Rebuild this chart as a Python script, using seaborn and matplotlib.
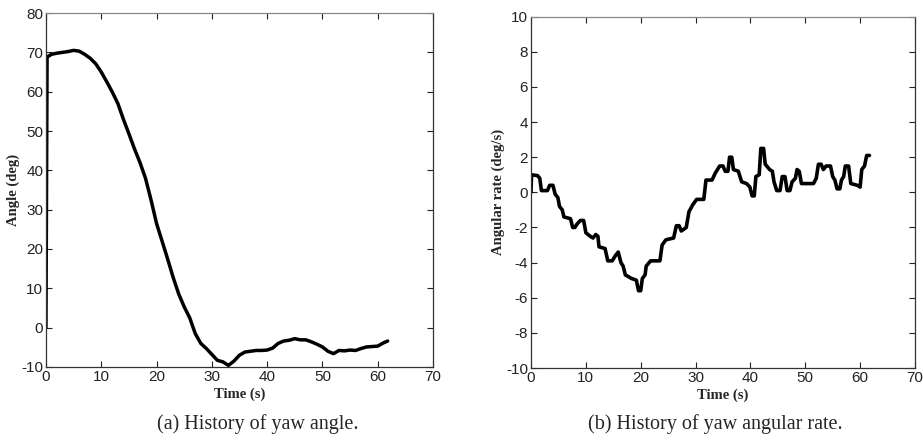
import matplotlib
matplotlib.use("Agg")
import matplotlib.pyplot as plt
import seaborn as sns
import pandas as pd

# ---- data ----
angle_time = [0, 0.2, 1, 2, 3, 4, 5, 6, 7, 8, 9, 10, 11, 12, 13, 14, 15, 16, 17, 18,
              19, 20, 21, 22, 23, 24, 25, 26, 27, 28, 29, 30, 31, 32, 33, 34, 35, 36,
              37, 38, 39, 40, 41, 42, 43, 44, 45, 46, 47, 48, 49, 50, 51, 52, 53, 54,
              55, 56, 57, 58, 59, 60, 61, 61.8]
angle_deg = [0, 68.8, 69.5, 69.8, 70.0, 70.2, 70.5, 70.3, 69.5, 68.5, 67.1, 65.0, 62.5,
             59.9, 57.0, 53.0, 49.3, 45.5, 42.0, 38.0, 32.5, 26.5, 22.0, 17.5, 12.8, 8.6,
             5.3, 2.5, -1.5, -4.0, -5.3, -6.8, -8.3, -8.7, -9.6, -8.5, -7.0, -6.2, -6.0,
             -5.8, -5.8, -5.7, -5.2, -4.0, -3.4, -3.2, -2.8, -3.1, -3.1, -3.6, -4.2, -4.9,
             -6.0, -6.6, -5.8, -5.9, -5.7, -5.8, -5.3, -4.9, -4.8, -4.7, -3.9, -3.4]

rate_time = [0, 0.1, 1.2, 1.6, 1.9, 3.0, 3.4, 4.0, 4.4, 4.9, 5.2, 5.7, 6.0, 7.2, 7.6, 8.0,
             8.4, 9.0, 9.6, 10.0, 10.8, 11.3, 11.8, 12.2, 12.4, 13.5, 14.0, 14.8, 15.4,
             15.9, 16.4, 16.8, 17.2, 18.3, 19.2, 19.6, 20.0, 20.3, 20.8, 21.0, 21.8, 23.5,
             23.9, 24.6, 26.0, 26.5, 27.0, 27.4, 28.3, 28.8, 29.5, 30.2, 31.5, 31.9, 33.0,
             33.6, 34.4, 35.0, 35.4, 35.9, 36.2, 36.6, 36.9, 37.8, 38.4, 39.3, 39.9, 40.3,
             40.7, 41.0, 41.6, 41.9, 42.4, 42.7, 43.5, 44.0, 44.3, 44.8, 45.4, 45.8, 46.3,
             46.7, 47.2, 47.6, 48.2, 48.5, 48.9, 49.3, 51.5, 52.0, 52.4, 52.9, 53.3, 53.8,
             54.6, 55.0, 55.4, 55.8, 56.3, 56.6, 57.0, 57.3, 57.9, 58.3, 59.5, 60.0, 60.3,
             60.8, 61.2, 61.7]
rate_deg_s = [0, 1.0, 0.95, 0.8, 0.1, 0.1, 0.4, 0.4, -0.1, -0.3, -0.8, -1.0, -1.4, -1.5,
              -2.0, -2.0, -1.8, -1.6, -1.6, -2.3, -2.5, -2.6, -2.4, -2.5, -3.1, -3.2, -3.9,
              -3.9, -3.6, -3.4, -4.0, -4.2, -4.7, -4.9, -5.0, -5.6, -5.6, -4.9, -4.7, -4.2,
              -3.9, -3.9, -3.0, -2.7, -2.6, -1.9, -1.9, -2.2, -2.0, -1.1, -0.7, -0.4, -0.4,
              0.7, 0.7, 1.1, 1.5, 1.5, 1.2, 1.2, 2.0, 2.0, 1.3, 1.2, 0.6, 0.5, 0.3, -0.2,
              -0.2, 0.9, 1.0, 2.5, 2.5, 1.6, 1.3, 1.2, 0.6, 0.1, 0.1, 0.9, 0.9, 0.1, 0.1,
              0.6, 0.8, 1.3, 1.2, 0.5, 0.5, 0.8, 1.6, 1.6, 1.3, 1.5, 1.5, 0.9, 0.7, 0.2,
              0.2, 0.7, 0.9, 1.5, 1.5, 0.5, 0.4, 0.3, 1.3, 1.5, 2.1, 2.1]

x_ticks = [0, 10, 20, 30, 40, 50, 60, 70]
angle_ticks = [-10, 0, 10, 20, 30, 40, 50, 60, 70, 80]
rate_ticks = [-10, -8, -6, -4, -2, 0, 2, 4, 6, 8, 10]

sns.set_style("ticks")
plt.rcParams["font.family"] = ["Liberation Sans", "DejaVu Sans"]

fig = plt.figure(figsize=(9.23, 4.43), dpi=100)
ax1 = fig.add_axes([0.0498, 0.1716, 0.4193, 0.799])
ax2 = fig.add_axes([0.5753, 0.1693, 0.416, 0.793])

df1 = pd.DataFrame({"t": angle_time, "v": angle_deg})
df2 = pd.DataFrame({"t": rate_time, "v": rate_deg_s})

sns.lineplot(data=df1, x="t", y="v", ax=ax1, color="black", linewidth=2.5,
             estimator=None, sort=False)
sns.lineplot(data=df2, x="t", y="v", ax=ax2, color="black", linewidth=2.6,
             estimator=None, sort=False)

label_font = dict(family="Liberation Serif", fontweight="bold", fontsize=10.5)

for ax, yt, ylim, ylab in [(ax1, angle_ticks, (-10, 80), "Angle (deg)"),
                           (ax2, rate_ticks, (-10, 10), "Angular rate (deg/s)")]:
    ax.set_xlim(0, 70)
    ax.set_ylim(*ylim)
    ax.set_xticks(x_ticks)
    ax.set_yticks(yt)
    ax.set_xticklabels([str(v) for v in x_ticks])
    ax.set_yticklabels([str(v) for v in yt])
    ax.tick_params(direction="in", length=4, width=0.8, top=True, right=True,
                   labelsize=11, colors="#222222", pad=2)
    for side in ["left", "bottom", "top", "right"]:
        ax.spines[side].set_visible(True)
        ax.spines[side].set_linewidth(0.9)
        ax.spines[side].set_color("#333333")
    ax.spines["top"].set_color("#888888")
    ax.set_xlabel("Time (s)", labelpad=3, **label_font)
    ax.set_ylabel(ylab, labelpad=1, **label_font)

fig.text(0.279, 0.043, "(a) History of yaw angle.", ha="center", va="center",
         family="Liberation Serif", fontsize=14.5)
fig.text(0.775, 0.043, "(b) History of yaw angular rate.", ha="center", va="center",
         family="Liberation Serif", fontsize=14.5)

fig.savefig("out.png", dpi=100)
